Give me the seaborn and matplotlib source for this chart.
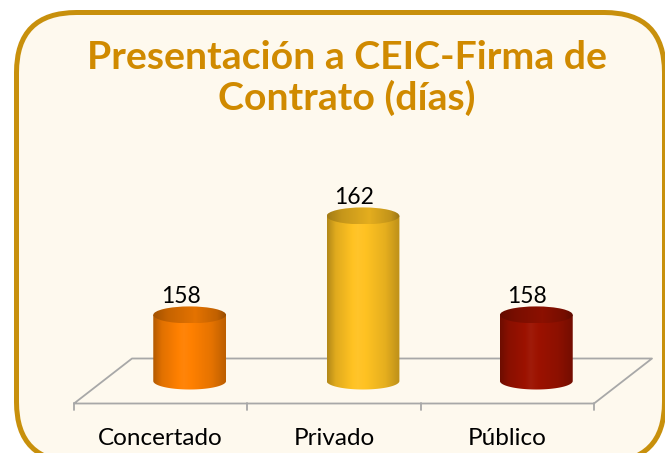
import numpy as np
import matplotlib
matplotlib.use('Agg')
import matplotlib.pyplot as plt
import seaborn as sns
from matplotlib.patches import FancyBboxPatch, Ellipse, PathPatch
from matplotlib.path import Path
from matplotlib.colors import to_rgb
from matplotlib.transforms import IdentityTransform

categories = ['Concertado', 'Privado', 'Público']
values = [158, 162, 158]
bar_colors = ['#FF8000', '#FFC222', '#9C1200']
title_lines = ['Presentación a CEIC-Firma de', 'Contrato (días)']

sns.set_theme(style='white')
plt.rcParams['font.family'] = ['Lato', 'DejaVu Sans']

W, H = 665, 453
fig = plt.figure(figsize=(W / 100, H / 100), dpi=100)
fig.patch.set_facecolor('white')

# rounded frame (pixel coords)
box = FancyBboxPatch((16.5, -9), 648, 449.5, boxstyle='round,pad=0,rounding_size=60',
                     transform=IdentityTransform(), facecolor='#FEF9EE',
                     edgecolor='#C8900C', linewidth=3.6, zorder=0)
fig.add_artist(box)

for k, line in enumerate(title_lines):
    fig.text(347 / W, 1 - (69 + 41 * k) / H, line, ha='center', va='baseline',
             fontsize=28.3, fontweight='bold', color='#D08A00')

# axes placed so that the base of the cylinders sits at y=381px
base_px, top_px = 381, 150
ppu = 24.75           # pixels per unit of value
y0 = 155.33           # value at the cylinder base
ax = fig.add_axes([103 / W, 0, 520 / W, (H - top_px) / H])
ax.set_facecolor('none')

sns.barplot(x=categories, y=values, hue=categories, palette=bar_colors,
            width=0.42, saturation=1, legend=False, ax=ax)

ry = 8.5 / ppu        # half height of the ellipses
dx, dy = 29 / 173.33, 22.5 / ppu   # floor depth offsets


def shade(col, m):
    c = np.array(to_rgb(col))
    out = []
    for f in m:
        if f <= 1:
            out.append(c * f)
        else:
            out.append(c + (1 - c) * (f - 1))
    return np.clip(np.array(out), 0, 1)


t = np.linspace(0, 1, 200)
prof = np.interp(t, [0, 0.12, 0.42, 0.8, 1], [0.7, 0.88, 1.04, 0.9, 0.74])

# floor
fl = dict(color='#A8A8A8', lw=1.3, clip_on=False, zorder=1)
ax.plot([-0.5 - dx, 2.5 - dx, 2.5 + dx, -0.5 + dx, -0.5 - dx],
        [y0 - dy, y0 - dy, y0 + dy, y0 + dy, y0 - dy], **fl)
for k in range(4):
    xk = k - 0.5 - dx
    ax.plot([xk, xk], [y0 - dy, y0 - dy - 7 / ppu], **fl)

bars = sorted(ax.patches, key=lambda p: p.get_x())
for i, p in enumerate(bars):
    p.set_visible(False)
    xl, w = p.get_x(), p.get_width()
    xr, xc = xl + w, xl + w / 2
    top = values[i]
    col = bar_colors[i]
    ang = np.linspace(np.pi, 2 * np.pi, 60)
    arc = np.column_stack([xc + w / 2 * np.cos(ang), y0 + ry * np.sin(ang)])
    verts = np.vstack([[xl, top], [xl, y0], arc, [xr, y0], [xr, top], [xl, top]])
    codes = [Path.MOVETO] + [Path.LINETO] * (len(verts) - 2) + [Path.CLOSEPOLY]
    body = PathPatch(Path(verts, codes), transform=ax.transData, facecolor='none', edgecolor='none')
    ax.add_patch(body)
    img = ax.imshow(shade(col, prof)[None, :, :], extent=(xl, xr, y0 - ry, top),
                    aspect='auto', zorder=3, interpolation='bilinear')
    img.set_clip_path(body)
    cap = Ellipse((xc, top), w, 2 * ry, transform=ax.transData, facecolor='none', edgecolor='none')
    ax.add_patch(cap)
    capimg = ax.imshow(shade(col, prof[::-1] * 0.86)[None, :, :],
                       extent=(xl, xr, top - ry, top + ry), aspect='auto', zorder=4,
                       interpolation='bilinear')
    capimg.set_clip_path(cap)
    ax.annotate(str(values[i]), (xc, top), xytext=(-9, 8), textcoords='offset pixels',
                ha='center', va='bottom', fontsize=16.5, color='black')
    ax.text(i - dx, y0 - (438 - base_px) / ppu, categories[i], ha='center', va='center',
            fontsize=17.5, color='black', clip_on=False)

ax.set_xlim(-0.5, 2.5)
ax.set_ylim(y0 - (H - base_px) / ppu, y0 + (base_px - top_px) / ppu)
ax.axis('off')

fig.savefig('out.png', dpi=100, facecolor='white')
